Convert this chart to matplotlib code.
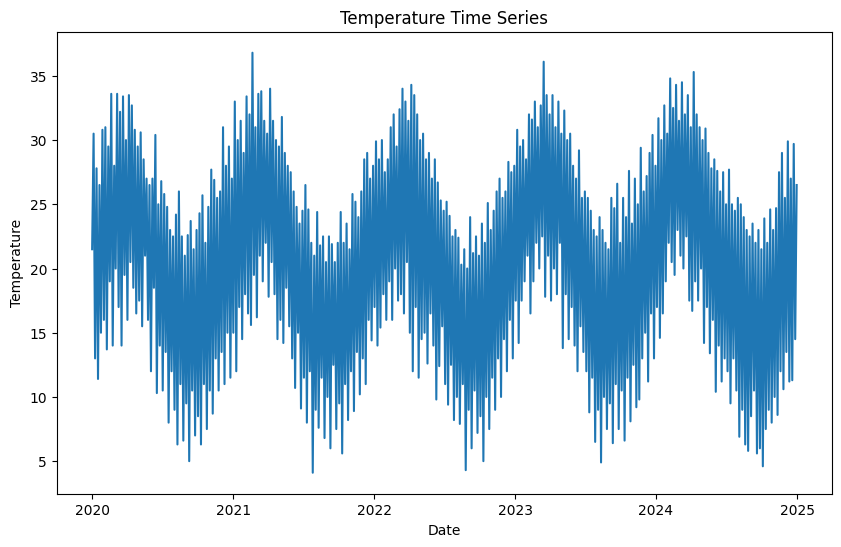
import numpy as np
import pandas as pd
import matplotlib
matplotlib.use("Agg")
import matplotlib.pyplot as plt

# temperature readings, 8 per month, Jan 2020 .. Dec 2024
temps_2020 = [
    21.5, 30.5, 13.0, 27.8, 11.4, 26.5, 15.0, 30.8,
    16.0, 31.0, 13.7, 29.5, 19.0, 33.6, 14.0, 28.0,
    20.0, 33.6, 17.0, 32.2, 14.0, 33.4, 19.5, 30.0,
    16.0, 33.5, 20.5, 32.7, 18.5, 30.8, 16.5, 29.5,
    17.5, 30.6, 15.5, 28.5, 21.0, 27.0, 16.0, 26.5,
    12.0, 27.0, 18.5, 30.4, 10.3, 25.0, 14.0, 26.8,
    10.5, 25.8, 13.5, 24.8, 8.0, 23.0, 12.0, 22.5,
    9.0, 24.2, 6.3, 26.0, 11.0, 22.5, 6.6, 21.0,
    9.5, 22.6, 5.0, 23.7, 10.5, 21.5, 7.0, 23.0,
    8.5, 24.3, 6.3, 25.7, 11.0, 22.0, 7.5, 24.8,
    10.5, 27.7, 8.7, 26.9, 13.0, 25.5, 10.5, 26.0,
    13.5, 31.0, 11.0, 28.0, 15.0, 29.5, 11.5, 27.0,
]
temps_2021 = [
    15.0, 33.0, 12.0, 30.0, 17.0, 31.5, 14.5, 29.0,
    18.0, 33.4, 16.5, 32.0, 15.6, 36.8, 19.5, 31.0,
    16.2, 33.6, 21.0, 33.8, 19.0, 31.5, 22.0, 30.5,
    17.8, 34.0, 20.5, 31.5, 18.0, 30.0, 14.5, 29.5,
    16.0, 31.8, 14.2, 29.0, 18.5, 28.0, 15.5, 27.5,
    13.0, 26.0, 10.7, 24.8, 15.0, 23.5, 9.1, 24.5,
    11.5, 26.5, 8.0, 24.6, 12.0, 22.0, 4.1, 21.0,
    9.0, 24.4, 7.6, 21.8, 11.5, 22.5, 6.8, 20.5,
    10.0, 22.5, 6.0, 21.9, 12.5, 20.5, 7.5, 22.0,
    9.5, 24.4, 5.6, 22.0, 11.0, 23.5, 8.2, 21.5,
    12.0, 25.8, 8.9, 25.2, 13.5, 24.0, 10.2, 26.0,
    13.0, 28.5, 11.0, 29.0, 16.0, 27.0, 14.4, 28.0,
]
temps_2022 = [
    17.0, 29.9, 14.0, 28.5, 15.4, 30.0, 18.0, 27.5,
    16.0, 28.5, 19.0, 31.0, 16.0, 32.0, 20.0, 29.5,
    17.5, 32.4, 18.0, 34.0, 16.5, 33.0, 20.5, 31.5,
    15.0, 34.3, 12.0, 33.5, 17.0, 32.0, 11.5, 30.0,
    14.5, 30.5, 15.0, 28.5, 12.6, 29.0, 16.5, 27.0,
    14.0, 28.5, 9.8, 26.7, 12.4, 25.3, 15.5, 24.5,
    11.0, 25.2, 9.4, 24.1, 12.5, 22.5, 8.2, 23.0,
    10.0, 22.4, 7.9, 20.3, 11.0, 21.5, 4.3, 20.0,
    9.0, 24.0, 6.0, 21.2, 10.5, 22.5, 7.2, 21.0,
    8.5, 23.5, 5.0, 22.0, 10.0, 25.1, 7.5, 23.0,
    11.5, 24.5, 9.0, 26.0, 13.0, 27.0, 10.0, 25.5,
    14.5, 26.0, 12.0, 28.3, 16.0, 27.5, 13.0, 28.0,
]
temps_2023 = [
    17.5, 30.8, 14.2, 29.5, 17.5, 30.0, 19.0, 28.5,
    21.0, 32.0, 16.5, 31.6, 19.0, 33.0, 22.0, 31.0,
    20.0, 32.7, 22.5, 36.1, 17.8, 33.5, 21.0, 32.0,
    17.5, 33.5, 20.0, 31.0, 18.0, 33.0, 22.0, 30.5,
    13.8, 32.3, 18.0, 30.0, 14.5, 30.5, 17.0, 28.0,
    14.0, 27.0, 12.0, 29.2, 15.5, 25.5, 13.5, 26.0,
    12.0, 25.5, 8.8, 24.5, 11.5, 23.0, 6.5, 22.5,
    9.0, 24.0, 4.9, 23.0, 10.0, 22.0, 7.5, 21.5,
    9.5, 25.5, 6.4, 24.7, 11.0, 26.6, 7.5, 22.0,
    10.5, 25.5, 6.6, 24.0, 11.5, 27.6, 8.1, 23.5,
    12.5, 27.0, 9.2, 25.0, 9.8, 29.4, 13.0, 26.0,
    15.0, 27.2, 11.2, 29.0, 16.5, 30.4, 13.0, 28.0,
]
temps_2024 = [
    17.0, 31.7, 14.6, 30.0, 16.5, 32.7, 19.0, 30.5,
    22.0, 34.8, 20.5, 32.5, 19.5, 34.3, 23.0, 31.5,
    21.0, 34.5, 20.0, 32.0, 22.5, 33.5, 17.5, 31.0,
    16.7, 35.3, 19.0, 32.0, 17.5, 31.0, 20.0, 30.0,
    14.2, 30.9, 17.0, 29.0, 13.4, 27.8, 16.0, 28.5,
    10.4, 27.6, 14.0, 26.0, 11.2, 27.5, 13.0, 25.0,
    12.0, 27.7, 9.5, 25.0, 13.0, 24.5, 10.5, 25.5,
    6.9, 25.0, 9.0, 24.0, 6.3, 23.0, 5.8, 22.5,
    8.5, 23.5, 10.5, 22.0, 5.6, 23.0, 6.0, 21.5,
    4.6, 23.9, 7.5, 22.0, 9.0, 24.6, 8.0, 23.0,
    10.0, 24.7, 8.6, 27.5, 12.0, 29.0, 10.6, 25.5,
    13.5, 29.9, 11.2, 27.0, 11.3, 29.7, 14.5, 26.5,
]

temps = temps_2020 + temps_2021 + temps_2022 + temps_2023 + temps_2024
dates = pd.date_range("2020-01-01", "2024-12-31", periods=len(temps))
df = pd.DataFrame({"Temperature": temps}, index=dates)

plt.figure(figsize=(10, 6))
plt.plot(df.index, df["Temperature"])
plt.title("Temperature Time Series")
plt.xlabel("Date")
plt.ylabel("Temperature")
plt.savefig("out.png", dpi=100, bbox_inches="tight")
plt.close()
